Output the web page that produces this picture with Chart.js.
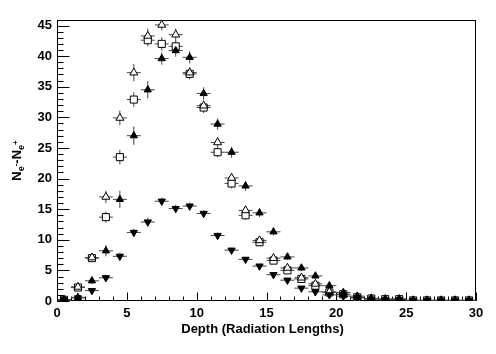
<!DOCTYPE html>
<html>
<head>
<meta charset="utf-8">
<script src="https://cdn.jsdelivr.net/npm/chart.js@4"></script>
<style>
  html, body { margin: 0; padding: 0; background: #fff; }
  #wrap { width: 496px; height: 354px; position: relative; }
</style>
</head>
<body>
<div id="wrap"><canvas id="showerChart"></canvas></div>
<script>
// bin centres (radiation lengths), each bin is 1 X0 wide
const depthBins = [0.5, 1.5, 2.5, 3.5, 4.5, 5.5, 6.5, 7.5, 8.5, 9.5,
  10.5, 11.5, 12.5, 13.5, 14.5, 15.5, 16.5, 17.5, 18.5, 19.5,
  20.5, 21.5, 22.5, 23.5, 24.5, 25.5, 26.5, 27.5, 28.5, 29.5];
const binHalfWidth = 0.5;

// open triangles (up)
const openTriangle = [0.2, 2.3, 7.1, 17.0, 29.9, 37.3, 43.3, 45.1, 43.5, 37.3,
  31.9, 25.9, 20.1, 14.8, 9.9, 7.0, 5.4, 3.8, 2.8, 1.5,
  1.1, 0.6, 0.4, 0.3, 0.3, 0.1, 0.1, 0.1, 0.1, 0.1];
const openTriangleErr = [0.1, 0.4, 0.6, 1.0, 1.2, 1.4, 1.2, 0.9, 1.0, 0.9,
  0.9, 0.9, 0.8, 0.7, 0.6, 0.5, 0.5, 0.4, 0.4, 0.3,
  0.3, 0.2, 0.2, 0.2, 0.2, 0.1, 0.1, 0.1, 0.1, 0.1];

// open squares
const openSquare = [0.2, 2.2, 7.0, 13.7, 23.5, 32.9, 42.6, 42.0, 41.6, 37.1,
  31.6, 24.3, 19.2, 14.0, 9.6, 6.6, 5.0, 3.6, 2.5, 1.4,
  1.1, 0.6, 0.4, 0.3, 0.3, 0.1, 0.1, 0.1, 0.1, 0.1];
const openSquareErr = [0.1, 0.4, 0.6, 0.9, 1.2, 1.2, 1.0, 1.1, 1.0, 0.9,
  0.9, 0.8, 0.8, 0.7, 0.6, 0.5, 0.5, 0.4, 0.4, 0.3,
  0.3, 0.2, 0.2, 0.2, 0.2, 0.1, 0.1, 0.1, 0.1, 0.1];

// filled triangles (up)
const filledUp = [0.2, 0.6, 3.3, 8.2, 16.6, 27.0, 34.5, 39.6, 40.9, 39.8,
  33.9, 28.9, 24.3, 18.8, 14.4, 11.3, 7.2, 5.4, 4.1, 2.5,
  1.4, 0.8, 0.4, 0.3, 0.3, 0.1, 0.1, 0.1, 0.1, 0.1];
const filledUpErr = [0.1, 0.3, 0.5, 0.9, 1.4, 1.5, 1.4, 1.0, 1.0, 1.0,
  1.0, 0.9, 0.9, 0.8, 0.7, 0.6, 0.5, 0.5, 0.4, 0.4,
  0.3, 0.3, 0.2, 0.2, 0.2, 0.1, 0.1, 0.1, 0.1, 0.1];

// filled triangles (down)
const filledDown = [0.2, 0.5, 1.7, 3.8, 7.3, 11.2, 12.9, 16.3, 15.1, 15.5,
  14.3, 10.7, 8.3, 6.8, 5.7, 4.3, 3.4, 2.1, 1.5, 1.0,
  0.8, 0.5, 0.3, 0.2, 0.2, 0.1, 0.1, 0.1, 0.1, 0.1];
const filledDownErr = [0.1, 0.2, 0.4, 0.5, 0.6, 0.6, 0.7, 0.6, 0.6, 0.6,
  0.5, 0.5, 0.4, 0.4, 0.4, 0.3, 0.3, 0.3, 0.3, 0.2,
  0.2, 0.2, 0.1, 0.1, 0.1, 0.1, 0.1, 0.1, 0.1, 0.1];

const xTicks = [0, 5, 10, 15, 20, 25, 30];
const yTicks = [0, 5, 10, 15, 20, 25, 30, 35, 40, 45];
const xTitle = 'Depth (Radiation Lengths)';

const FONT = '"Liberation Sans", Arial, Helvetica, sans-serif';

const toPoints = (vals) => vals.map((v, i) => ({ x: depthBins[i], y: v }));

// ROOT-like frame with inward ticks, drawn under the markers
const rootFrame = {
  id: 'rootFrame',
  beforeDatasetsDraw(chart) {
    const { ctx, chartArea: a, scales: { x, y } } = chart;
    ctx.save();
    ctx.strokeStyle = '#000';
    ctx.lineWidth = 1;
    ctx.strokeRect(a.left + 0.5, a.top + 0.5, a.right - a.left - 1, a.bottom - a.top - 1);
    ctx.beginPath();
    for (let v = x.min; v <= x.max; v++) {
      const px = Math.round(x.getPixelForValue(v)) + 0.5;
      const len = v % 5 === 0 ? 8.5 : 4.5;
      ctx.moveTo(px, a.bottom);
      ctx.lineTo(px, a.bottom - len);
    }
    for (let v = 0; v <= y.max; v++) {
      const py = Math.round(y.getPixelForValue(v)) + 0.5;
      const len = v % 5 === 0 ? 12.5 : 6.5;
      ctx.moveTo(a.left, py);
      ctx.lineTo(a.left + len, py);
    }
    ctx.stroke();

    // error bars
    ctx.beginPath();
    ctx.rect(a.left, a.top, a.right - a.left, a.bottom - a.top);
    ctx.clip();
    ctx.strokeStyle = '#444';
    ctx.beginPath();
    chart.data.datasets.forEach(ds => {
      ds.data.forEach((pt, i) => {
        const px = x.getPixelForValue(pt.x);
        const py = y.getPixelForValue(pt.y);
        ctx.moveTo(x.getPixelForValue(pt.x - binHalfWidth), py);
        ctx.lineTo(x.getPixelForValue(pt.x + binHalfWidth), py);
        ctx.moveTo(px, y.getPixelForValue(pt.y - ds.yErr[i]));
        ctx.lineTo(px, y.getPixelForValue(pt.y + ds.yErr[i]));
      });
    });
    ctx.stroke();
    ctx.restore();
  },
  afterDraw(chart) {
    const { ctx, chartArea: a } = chart;
    ctx.save();
    ctx.fillStyle = '#000';
    ctx.font = 'bold 13px ' + FONT;
    ctx.textAlign = 'center';
    ctx.textBaseline = 'alphabetic';
    ctx.fillText(xTitle, (a.left + a.right) / 2 - 4, 333);

    // y title: N_{e^-} - N_{e^+}
    ctx.translate(21, (a.top + a.bottom) / 2);
    ctx.rotate(-Math.PI / 2);
    ctx.textAlign = 'left';
    const parts = [
      { t: 'N', size: 13, dy: 0 },
      { t: 'e', size: 9, dy: 3 },
      { t: '-', size: 8, dy: -3 },
      { t: '-N', size: 13, dy: 0 },
      { t: 'e', size: 9, dy: 3 },
      { t: '+', size: 8, dy: -3 }
    ];
    let total = 0;
    parts.forEach(p => { ctx.font = 'bold ' + p.size + 'px ' + FONT; p.w = ctx.measureText(p.t).width; total += p.w; });
    let cx = -total / 2;
    parts.forEach(p => {
      ctx.font = 'bold ' + p.size + 'px ' + FONT;
      ctx.fillText(p.t, cx, p.dy);
      cx += p.w;
    });
    ctx.restore();
  }
};

const markerSet = (label, vals, errs, style, filled, radius, rotation) => ({
  label,
  data: toPoints(vals),
  yErr: errs,
  showLine: false,
  pointStyle: style,
  pointRotation: rotation || 0,
  pointRadius: radius,
  pointBackgroundColor: filled ? '#000' : '#fff',
  pointBorderColor: '#000',
  pointBorderWidth: 1
});

// dataset 0 is painted last, so the filled markers sit on top
new Chart(document.getElementById('showerChart'), {
  type: 'scatter',
  data: {
    datasets: [
      markerSet('filled down', filledDown, filledDownErr, 'triangle', true, 4.2, 180),
      markerSet('filled up', filledUp, filledUpErr, 'triangle', true, 4.2),
      markerSet('open triangle', openTriangle, openTriangleErr, 'triangle', false, 4.6),
      markerSet('open square', openSquare, openSquareErr, 'rect', false, 5)
    ]
  },
  options: {
    responsive: true,
    maintainAspectRatio: false,
    animation: false,
    layout: { padding: { left: 0, right: 20, top: 20, bottom: 0 } },
    plugins: { legend: { display: false }, tooltip: { enabled: false } },
    scales: {
      x: {
        type: 'linear',
        min: 0,
        max: 30,
        afterFit: s => { s.height = 53; },
        afterBuildTicks: s => { s.ticks = xTicks.map(v => ({ value: v })); },
        grid: { display: false, drawTicks: false, tickLength: 0 },
        border: { display: false },
        ticks: { color: '#000', padding: 5, maxRotation: 0, font: { family: FONT, size: 13, weight: 'bold' } }
      },
      y: {
        type: 'linear',
        min: 0,
        max: 45.9,
        afterFit: s => { s.width = 57; },
        afterBuildTicks: s => { s.ticks = yTicks.map(v => ({ value: v })); },
        grid: { display: false, drawTicks: false, tickLength: 0 },
        border: { display: false },
        ticks: { color: '#000', padding: 5, font: { family: FONT, size: 13, weight: 'bold' } }
      }
    }
  },
  plugins: [rootFrame]
});
</script>
</body>
</html>
